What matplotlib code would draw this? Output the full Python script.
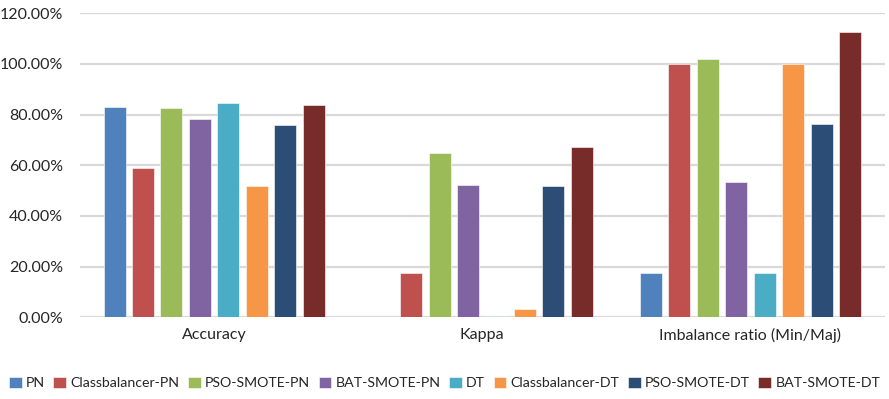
import matplotlib.pyplot as plt
import numpy as np
from matplotlib.ticker import FuncFormatter

plt.rcParams["font.family"] = ["Lato", "DejaVu Sans"]

categories = ["Accuracy", "Kappa", "Imbalance ratio (Min/Maj)"]
series = [
    "PN", "Classbalancer-PN", "PSO-SMOTE-PN", "BAT-SMOTE-PN",
    "DT", "Classbalancer-DT", "PSO-SMOTE-DT", "BAT-SMOTE-DT",
]
pn = [83.1, 0.15, 17.3]
classbalancer_pn = [58.7, 17.6, 100.0]
pso_smote_pn = [82.4, 64.9, 101.9]
bat_smote_pn = [78.1, 52.1, 53.2]
dt = [84.4, 0.6, 17.3]
classbalancer_dt = [51.7, 3.4, 100.0]
pso_smote_dt = [76.0, 51.7, 76.2]
bat_smote_dt = [83.7, 67.1, 112.7]
colors = ["#4F81BD", "#C0504D", "#9BBB59", "#8064A2",
          "#4BACC6", "#F79646", "#2C4D75", "#772C2A"]

values = [pn, classbalancer_pn, pso_smote_pn, bat_smote_pn,
          dt, classbalancer_dt, pso_smote_dt, bat_smote_dt]

fig = plt.figure(figsize=(8.89, 3.99), dpi=100)
ax = fig.add_axes([0.09, 0.205, 0.905, 0.762])

x = np.arange(len(categories))
slot = 0.106
width = 0.082
for i, (name, vals, c) in enumerate(zip(series, values, colors)):
    offset = (i - 3.5) * slot
    ax.bar(x + offset, vals, width, color=c, label=name, zorder=3,
           edgecolor="white", linewidth=0.4)

ax.set_xlim(-0.5, 2.5)
ax.set_ylim(0, 120)
ax.set_yticks(np.arange(0, 121, 20))
ax.yaxis.set_major_formatter(FuncFormatter(lambda v, _: f"{v:.2f}%"))
ax.set_xticks(x)
ax.set_xticklabels(categories, fontsize=11.5)
ax.tick_params(axis="both", length=0, labelsize=11.5, colors="#262626")
ax.tick_params(axis="x", pad=8)
ax.tick_params(axis="y", pad=12)
ax.grid(axis="y", color="#D9D9D9", linewidth=1.6, zorder=0)
for side in ["top", "right", "left", "bottom"]:
    ax.spines[side].set_visible(False)

fig.legend(loc="lower center", bbox_to_anchor=(0.5, -0.008), ncol=8,
           frameon=False, fontsize=10.2, handlelength=0.9, handleheight=0.9,
           handletextpad=0.3, columnspacing=0.6, labelcolor="#262626")

fig.savefig("out.png", dpi=100)
